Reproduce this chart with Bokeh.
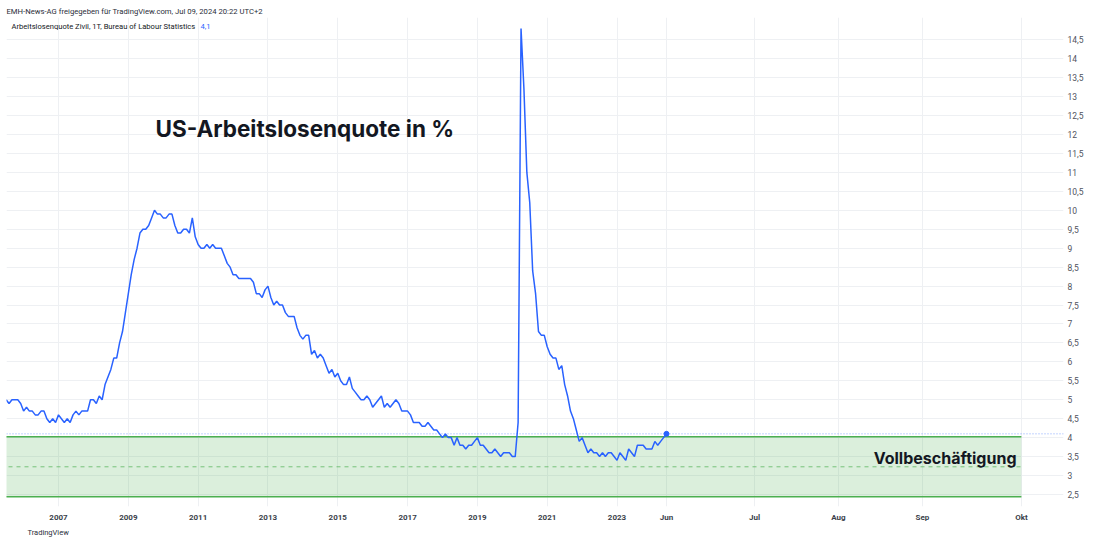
from bokeh.plotting import figure
from bokeh.models import Label, Span, FixedTicker, BoxAnnotation, Title
from bokeh.embed import file_html
from bokeh.resources import INLINE

# ---------------- data ----------------
# monthly US civilian unemployment rate, Jul 2005 .. Jun 2024 (index 0 = Jul 2005)
v2005 = [5.0, 4.9, 5.0, 5.0, 5.0, 4.9]
v2006 = [4.7, 4.8, 4.7, 4.7, 4.6, 4.6, 4.7, 4.7, 4.5, 4.4, 4.5, 4.4]
v2007 = [4.6, 4.5, 4.4, 4.5, 4.4, 4.6, 4.7, 4.6, 4.7, 4.7, 4.7, 5.0]
v2008 = [5.0, 4.9, 5.1, 5.0, 5.4, 5.6, 5.8, 6.1, 6.1, 6.5, 6.8, 7.3]
v2009 = [7.8, 8.3, 8.7, 9.0, 9.4, 9.5, 9.5, 9.6, 9.8, 10.0, 9.9, 9.9]
v2010 = [9.8, 9.8, 9.9, 9.9, 9.6, 9.4, 9.4, 9.5, 9.5, 9.4, 9.8, 9.3]
v2011 = [9.1, 9.0, 9.0, 9.1, 9.0, 9.1, 9.0, 9.0, 9.0, 8.8, 8.6, 8.5]
v2012 = [8.3, 8.3, 8.2, 8.2, 8.2, 8.2, 8.2, 8.1, 7.8, 7.8, 7.7, 7.9]
v2013 = [8.0, 7.7, 7.5, 7.6, 7.5, 7.5, 7.3, 7.2, 7.2, 7.2, 6.9, 6.7]
v2014 = [6.6, 6.7, 6.7, 6.2, 6.3, 6.1, 6.2, 6.1, 5.9, 5.7, 5.8, 5.6]
v2015 = [5.7, 5.5, 5.4, 5.4, 5.6, 5.3, 5.2, 5.1, 5.0, 5.0, 5.1, 5.0]
v2016 = [4.8, 4.9, 5.0, 5.1, 4.8, 4.9, 4.8, 4.9, 5.0, 4.9, 4.7, 4.7]
v2017 = [4.7, 4.6, 4.4, 4.4, 4.4, 4.3, 4.3, 4.4, 4.3, 4.2, 4.2, 4.1]
v2018 = [4.0, 4.1, 4.0, 4.0, 3.8, 4.0, 3.8, 3.8, 3.7, 3.8, 3.8, 3.9]
v2019 = [4.0, 3.8, 3.8, 3.7, 3.6, 3.6, 3.7, 3.6, 3.5, 3.6, 3.6, 3.6]
v2020 = [3.5, 3.5, 4.4, 14.8, 13.2, 11.0, 10.2, 8.4, 7.8, 6.8, 6.7, 6.7]
v2021 = [6.4, 6.2, 6.1, 6.1, 5.8, 5.9, 5.4, 5.1, 4.7, 4.5, 4.2, 3.9]
v2022 = [4.0, 3.8, 3.6, 3.7, 3.6, 3.6, 3.5, 3.6, 3.5, 3.6, 3.6, 3.5]
v2023 = [3.4, 3.6, 3.5, 3.4, 3.7, 3.6, 3.5, 3.8, 3.8, 3.8, 3.7, 3.7]
v2024 = [3.7, 3.9, 3.8, 3.9, 4.0, 4.1]

values = (v2005 + v2006 + v2007 + v2008 + v2009 + v2010 + v2011 + v2012 + v2013
          + v2014 + v2015 + v2016 + v2017 + v2018 + v2019 + v2020 + v2021 + v2022
          + v2023 + v2024)
months = list(range(len(values)))

# x-axis tick labels (month index positions; future months follow the chart's own spacing)
x_tick_labels = ["2007", "2009", "2011", "2013", "2015", "2017", "2019", "2021", "2023",
                 "Jun", "Jul", "Aug", "Sep", "Okt"]
x_tick_pos = [18, 42, 66, 90, 114, 138, 162, 186, 210, 227, 257.3, 286.1, 315.0, 349.0]

y_ticks = [2.5 + 0.5 * i for i in range(25)]
y_tick_labels = [("%g" % t).replace(".", ",") for t in y_ticks]

# full employment zone
zone_top = 4.02
zone_bottom = 2.44
zone_end = 349.0
last_value = values[-1]

# ---------------- geometry helpers (reference pixel -> data) ----------------
PXM = 2.909   # px per month
PXU = 37.96   # px per unit
def xd(rx):
    return 18 + (rx - 58) / PXM
def yd(ry):
    return 14.5 - (ry - 39.4) / PXU

FONT = "Roboto"
BOLD = "Inter"
TXT = "#2a2e39"

p = figure(width=1092, height=537, x_range=(xd(6), xd(1063)), y_range=(yd(507), yd(17)),
           output_backend="svg", toolbar_location=None, y_axis_location="right",
           min_border_left=6, min_border_right=29, min_border_top=17, min_border_bottom=30)
p.outline_line_color = None
p.background_fill_color = "white"
p.border_fill_color = "white"

# header / footer
p.title.text = "EMH-News-AG freigegeben für TradingView.com, Jul 09, 2024 20:22 UTC+2"
p.title.text_font = FONT
p.title.text_font_size = "7.7px"
p.title.text_font_style = "normal"
p.title.text_color = TXT
p.title.align = "left"
p.title.standoff = 3
p.add_layout(Title(text="TradingView", text_font=FONT, text_font_size="7.5px",
                   text_font_style="normal", text_color=TXT, align="left",
                   offset=21, standoff=2), "below")

# grid
p.xgrid.ticker = FixedTicker(ticks=x_tick_pos)
p.ygrid.ticker = FixedTicker(ticks=y_ticks)
p.grid.grid_line_color = "#eef0f3"
p.grid.grid_line_width = 1

# axes
xa = p.xaxis[0]
xa.ticker = FixedTicker(ticks=x_tick_pos)
xa.major_label_overrides = {t: l for t, l in zip(x_tick_pos, x_tick_labels)}
xa.axis_line_color = None
xa.major_tick_line_color = None
xa.minor_tick_line_color = None
xa.major_tick_out = 0
xa.major_tick_in = 0
xa.major_label_text_font = FONT
xa.major_label_text_font_size = "8px"
xa.major_label_text_font_style = "bold"
xa.major_label_text_color = "#3b3f4a"
xa.major_label_standoff = 6

ya = p.yaxis[0]
ya.ticker = FixedTicker(ticks=y_ticks)
ya.major_label_overrides = {t: l for t, l in zip(y_ticks, y_tick_labels)}
ya.axis_line_color = None
ya.major_tick_line_color = None
ya.minor_tick_line_color = None
ya.major_tick_out = 0
ya.major_tick_in = 0
ya.major_label_text_font = FONT
ya.major_label_text_font_size = "8.5px"
ya.major_label_text_color = "#50535e"
ya.major_label_standoff = 4

# full-employment zone
zone = BoxAnnotation(left=xd(0), right=zone_end, bottom=zone_bottom, top=zone_top,
                     fill_color="#4caf50", fill_alpha=0.2, line_color=None, level="underlay")
p.add_layout(zone)
p.segment(x0=[xd(0), xd(0)], x1=[zone_end, zone_end], y0=[zone_top, zone_bottom],
          y1=[zone_top, zone_bottom], line_color="#4caf50", line_width=1.5)
mid = (zone_top + zone_bottom) / 2
p.segment(x0=[xd(0)], x1=[zone_end], y0=[mid], y1=[mid], line_color="#4caf50",
          line_alpha=0.7, line_width=1, line_dash="4 4")

# last value line
p.add_layout(Span(location=last_value, dimension="width", line_color="#2962ff",
                  line_alpha=0.55, line_width=1, line_dash="1 2"))

# series
p.line(months, values, line_color="#2962ff", line_width=1.5)
p.scatter([months[-1]], [values[-1]], size=5, color="#2962ff")

# texts inside the plot area
p.add_layout(Label(x=xd(11), y=yd(26.5), text="Arbeitslosenquote Zivil, 1T, Bureau of Labour Statistics",
                   text_font=FONT, text_font_size="7.6px", text_color="#131722",
                   text_align="left", text_baseline="alphabetic"))
p.add_layout(Label(x=xd(200), y=yd(26.5), text="4,1",
                   text_font=FONT, text_font_size="7.6px", text_color="#2962ff",
                   text_align="left", text_baseline="alphabetic"))
p.add_layout(Label(x=xd(155), y=yd(128), text="US-Arbeitslosenquote in %",
                   text_font=BOLD, text_font_size="22.5px", text_font_style="bold", text_color="#131722",
                   text_align="left", text_baseline="alphabetic"))
p.add_layout(Label(x=xd(1016), y=yd(458), text="Vollbeschäftigung",
                   text_font=BOLD, text_font_size="16px", text_font_style="bold", text_color="#131722",
                   text_align="right", text_baseline="alphabetic"))

open("out.html", "w").write(file_html(p, INLINE))
